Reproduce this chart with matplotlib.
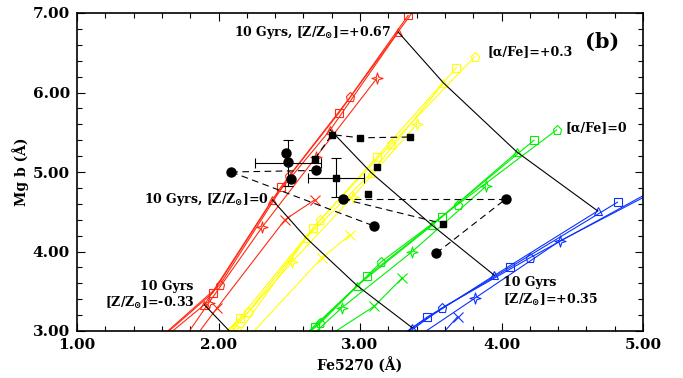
import matplotlib
matplotlib.use("Agg")
import matplotlib.pyplot as plt
import numpy as np
from matplotlib.path import Path
from matplotlib.ticker import MultipleLocator, FormatStrFormatter

plt.rcParams["font.family"] = ["DejaVu Serif"]
plt.rcParams["font.weight"] = "bold"
plt.rcParams["mathtext.fontset"] = "dejavuserif"

# Model tracks: (Fe5270, Mg b) at [Z/Zsun] = -0.64, -0.33, 0, +0.35, +0.67
red_tracks = {
    "15": [(1.40, 2.62), (2.01, 3.58), (2.50, 4.95), (2.93, 5.94), (3.40, 7.08)],
    "12": [(1.38, 2.58), (1.96, 3.48), (2.44, 4.81), (2.85, 5.74), (3.34, 6.97)],
    "10": [(1.35, 2.52), (1.90, 3.33), (2.38, 4.65), (2.79, 5.53), (3.27, 6.76)],
    "5": [(1.62, 2.55), (1.93, 3.35), (2.31, 4.31), (2.69, 5.19), (3.12, 6.18)],
    "2": [(1.70, 2.60), (1.99, 3.29), (2.47, 4.40), (2.68, 4.65)],
}
yellow_tracks = {
    "15": [(1.80, 2.55), (2.21, 3.24), (2.72, 4.40), (3.22, 5.35), (3.81, 6.45)],
    "12": [(1.78, 2.50), (2.15, 3.16), (2.67, 4.30), (3.12, 5.19), (3.68, 6.31)],
    "10": [(1.75, 2.45), (2.12, 2.92), (2.62, 4.17), (3.08, 4.99), (3.59, 6.12)],
    "5": [(1.85, 2.50), (2.12, 3.05), (2.52, 3.87), (2.95, 4.69), (3.40, 5.60)],
    "2": [(1.95, 2.45), (2.20, 2.90), (2.73, 3.92), (2.93, 4.21)],
}
green_tracks = {
    "15": [(2.35, 2.55), (2.72, 3.10), (3.15, 3.87), (3.69, 4.59), (4.39, 5.53)],
    "12": [(2.33, 2.52), (2.68, 3.05), (3.05, 3.69), (3.58, 4.44), (4.23, 5.40)],
    "10": [(2.30, 2.48), (2.55, 2.85), (2.98, 3.57), (3.51, 4.33), (4.11, 5.25)],
    "5": [(2.10, 2.30), (2.45, 2.60), (2.87, 3.29), (3.37, 4.00), (3.89, 4.82)],
    "2": [(2.70, 2.85), (3.10, 3.31), (3.30, 3.67)],
}
blue_tracks = {
    "15": [(2.90, 2.40), (3.20, 2.80), (3.58, 3.29), (4.20, 3.92), (5.05, 4.75)],
    "12": [(2.85, 2.35), (3.12, 2.72), (3.47, 3.17), (4.06, 3.80), (4.82, 4.62)],
    "10": [(2.80, 2.30), (3.05, 2.65), (3.37, 3.04), (3.95, 3.70), (4.68, 4.51)],
    "5": [(2.90, 2.20), (3.30, 2.80), (3.81, 3.41), (4.41, 4.13), (5.10, 4.77)],
    "2": [(3.40, 2.60), (3.69, 3.18)],
}

# Observed galaxies
circle_fe = [2.09, 2.48, 2.49, 2.69, 2.51, 2.88, 3.10, 4.03, 3.54]
circle_mg = [5.00, 5.24, 5.12, 5.02, 4.91, 4.66, 4.32, 4.66, 3.98]
square_fe = [2.80, 3.00, 3.35, 2.68, 2.83, 3.12, 3.06, 3.59]
square_mg = [5.47, 5.43, 5.44, 5.16, 4.92, 5.06, 4.72, 4.35]

# dashed links between measurements of the same object
dashed_links = [
    [(2.68, 5.16), (2.80, 5.47), (3.00, 5.43), (3.35, 5.44)],
    [(2.09, 5.00), (2.69, 5.02)],
    [(2.09, 5.00), (3.10, 4.32)],
    [(2.88, 4.66), (4.03, 4.66)],
    [(2.88, 4.66), (3.59, 4.35)],
    [(3.54, 3.98), (4.03, 4.66)],
]

# representative error bars
err_fe = [2.49, 2.83]
err_mg = [5.11, 4.93]
err_xerr = [0.235, 0.20]
err_yerr = [0.29, 0.245]

# four-pointed open star
ang = np.arange(8) * np.pi / 4 + np.pi / 2
rad = np.where(np.arange(8) % 2 == 0, 1.0, 0.32)
star4 = Path(np.column_stack([rad * np.cos(ang), rad * np.sin(ang)]).tolist()
             + [[0.0, 1.0]], closed=True)

track_colors = [("#ff2a12", red_tracks), ("#ffff00", yellow_tracks),
                ("#00f000", green_tracks), ("#0a32ff", blue_tracks)]
age_markers = {"15": "p", "12": "s", "10": "^", "5": star4, "2": "x"}
age_msize = {"15": 6.5, "12": 6, "10": 6, "5": 8, "2": 7}

fig = plt.figure(figsize=(6.83, 3.78), dpi=100)
ax = fig.add_axes([77 / 683, 1 - 331 / 378, 566 / 683, 318 / 378])

for color, tracks in track_colors:
    for age, pts in tracks.items():
        fe = [p[0] for p in pts]
        mg = [p[1] for p in pts]
        ax.plot(fe, mg, color=color, lw=0.8, marker=age_markers[age],
                ms=age_msize[age], mfc="none", mec=color, mew=0.8)

# 10 Gyr iso-metallicity lines across the alpha/Fe grids
for iz in range(1, 5):
    xs = [tr["10"][iz][0] for _, tr in track_colors]
    ys = [tr["10"][iz][1] for _, tr in track_colors]
    ax.plot(xs, ys, color="k", lw=0.8)

for seg in dashed_links:
    ax.plot([p[0] for p in seg], [p[1] for p in seg], color="k", lw=0.8,
            dashes=(6, 4))

ax.errorbar(err_fe, err_mg, xerr=err_xerr, yerr=err_yerr, fmt="none",
            ecolor="k", elinewidth=0.8, capsize=3.5, capthick=0.8)
ax.plot(circle_fe, circle_mg, "o", color="k", ms=6.5)
ax.plot(square_fe, square_mg, "s", color="k", ms=5)

ax.set_xlim(1, 5)
ax.set_ylim(3, 7)
ax.xaxis.set_major_locator(MultipleLocator(1))
ax.xaxis.set_minor_locator(MultipleLocator(0.2))
ax.yaxis.set_major_locator(MultipleLocator(1))
ax.yaxis.set_minor_locator(MultipleLocator(0.2))
ax.xaxis.set_major_formatter(FormatStrFormatter("%.2f"))
ax.yaxis.set_major_formatter(FormatStrFormatter("%.2f"))
ax.tick_params(which="both", direction="in", top=True, right=True,
               labelsize=11, width=0.8)
ax.tick_params(which="major", length=6, pad=5)
ax.tick_params(which="minor", length=3.5)
for s in ax.spines.values():
    s.set_linewidth(1.2)

ax.set_xlabel("Fe5270 (Å)", fontsize=10, fontweight="bold", labelpad=4)
ax.set_ylabel("Mg b (Å)", fontsize=10, fontweight="bold", labelpad=3)

fs = 9
ax.text(3.22, 6.76, r"10 Gyrs, [Z/Z$_{\odot}$]=+0.67", fontsize=fs,
        fontweight="bold", ha="right", va="center")
ax.text(2.36, 4.65, r"10 Gyrs, [Z/Z$_{\odot}$]=0", fontsize=fs,
        fontweight="bold", ha="right", va="center")
ax.text(1.82, 3.56, "10 Gyrs", fontsize=fs, fontweight="bold",
        ha="right", va="center")
ax.text(1.83, 3.35, r"[Z/Z$_{\odot}$]=-0.33", fontsize=fs,
        fontweight="bold", ha="right", va="center")
ax.text(4.01, 3.61, "10 Gyrs", fontsize=fs, fontweight="bold",
        ha="left", va="center")
ax.text(4.01, 3.39, r"[Z/Z$_{\odot}$]=+0.35", fontsize=fs,
        fontweight="bold", ha="left", va="center")
ax.text(3.90, 6.51, "[α/Fe]=+0.3", fontsize=fs, fontweight="bold",
        ha="left", va="center")
ax.text(4.455, 5.56, "[α/Fe]=0", fontsize=fs, fontweight="bold",
        ha="left", va="center")
ax.text(4.71, 6.64, "(b)", fontsize=15, fontweight="bold",
        ha="center", va="center")

fig.savefig("out.png", dpi=100)
